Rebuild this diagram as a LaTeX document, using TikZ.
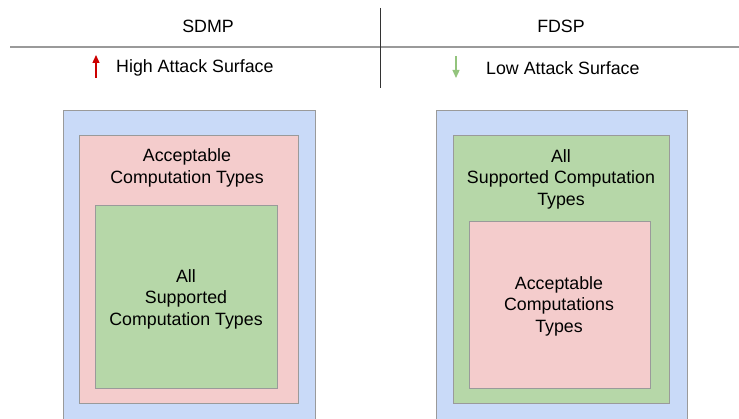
\documentclass[tikz,border=0pt]{standalone}
\usepackage{fontspec}
\setmainfont{Liberation Sans}
\usetikzlibrary{arrows.meta}
\definecolor{bluebg}{HTML}{C9DAF8}
\definecolor{pinkbg}{HTML}{F4CCCC}
\definecolor{greenbg}{HTML}{B6D7A8}
\definecolor{edgegrey}{HTML}{9A9A9A}
\definecolor{redarrow}{HTML}{CC0000}
\definecolor{greenarrow}{HTML}{93C47D}
\tikzset{
  box/.style={draw=edgegrey, line width=1pt, inner sep=0pt},
  outerbox/.style={box, fill=bluebg},
  pinkbox/.style={box, fill=pinkbg},
  greenbox/.style={box, fill=greenbg},
  lbl/.style={align=center, font=\fontsize{17.8}{21.5}\selectfont, inner sep=0pt},
  head/.style={font=\fontsize{17.8}{20}\selectfont, inner sep=0pt},
}
\begin{document}
\begin{tikzpicture}[x=1pt,y=-1pt]
\useasboundingbox (0,0) rectangle (739,419);
% header
\coordinate (hl) at (10,47);
\coordinate (hr) at (739,47);
\coordinate (vt) at (380,8);
\coordinate (vb) at (380,88);
\draw[edgegrey, line width=2.2pt] (hl) -- (hr);
\draw[black!80, line width=0.8pt] (vt) -- (vb);
\node[head] (sdmp) at (208,26) {SDMP};
\node[head] (fdsp) at (561,26) {FDSP};
\coordinate (ra1) at (96,78);
\coordinate (ra2) at (96,55);
\draw[redarrow, line width=1.3pt, -{Triangle[length=8pt,width=7pt]}] (ra1) -- (ra2);
\coordinate (ga1) at (456,56);
\coordinate (ga2) at (456,78);
\draw[greenarrow, line width=1.3pt, -{Triangle[length=8pt,width=7pt]}] (ga1) -- (ga2);
\node[head, anchor=west] (high) at (116,68) {High Attack Surface};
\node[head, anchor=west] (low) at (486,68) {Low Attack Surface};
% left
\path[outerbox] (63,111) rectangle (315,440);
\path[pinkbox] (79,136) rectangle (298,404);
\path[greenbox] (95,206) rectangle (277,389);
\node[lbl] (lacc) at (187,168) {Acceptable\\Computation Types};
\node[lbl] (lall) at (186,299) {All\\Supported\\Computation Types};
% right
\path[outerbox] (436,111) rectangle (687,440);
\path[greenbox] (453,136) rectangle (669,404);
\path[pinkbox] (469,222) rectangle (650,389);
\node[lbl] (rall) at (561,179) {All\\Supported Computation\\Types};
\node[lbl] (racc) at (559,306) {Acceptable\\Computations\\Types};
\end{tikzpicture}
\end{document}
